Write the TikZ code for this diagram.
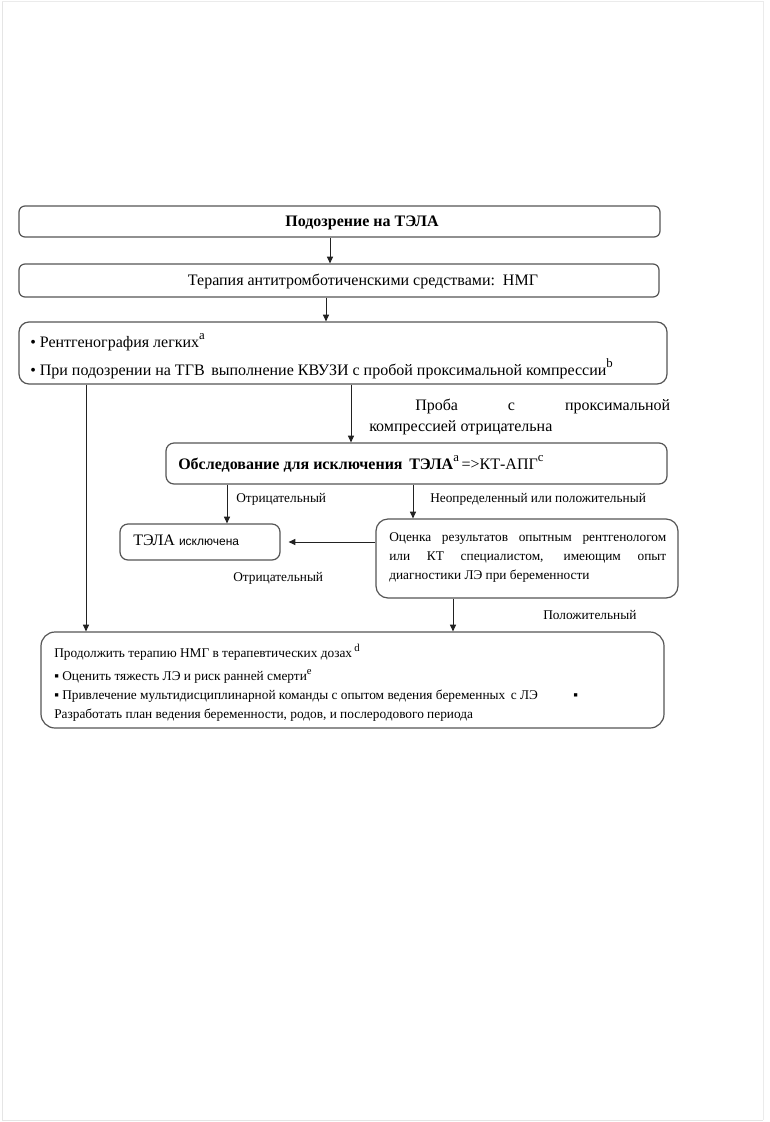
\documentclass[tikz,border=0pt]{standalone}
\usepackage{fontspec}
\setmainfont{Liberation Serif}
\newfontfamily\sansf{Liberation Sans}
\usetikzlibrary{arrows.meta}
\newdimen\PX \PX=0.75pt
\newcommand\supx[1]{\raisebox{0.45em}{\fontsize{0.8em}{1em}\selectfont #1}}
\definecolor{boxline}{HTML}{555555}
\definecolor{lineclr}{HTML}{222222}
\begin{document}
\begin{tikzpicture}[x=0.75pt,y=-0.75pt,
  box/.style={draw=boxline,line width=0.9pt,fill=white,inner sep=0pt},
  arr/.style={draw=lineclr,line width=0.75pt,-{Triangle[length=5pt,width=4.5pt]}},
  txt/.style={inner sep=0pt,anchor=base west,text=black},
  f12/.style={font=\fontsize{12}{14}\selectfont},
  f10/.style={font=\fontsize{10}{12}\selectfont}]
\useasboundingbox (0,0) rectangle (770,1122);
\draw[black!10,line width=0.6pt] (2,1) -- (2,1120) -- (763,1120);
\draw[black!8,line width=0.6pt] (2,1) -- (763,1) -- (763,1120);

% boxes
\node[box,rounded corners=6\PX,minimum width=641\PX,minimum height=31\PX] (b1) at (339.5,221.5) {};
\node[box,rounded corners=6\PX,minimum width=640\PX,minimum height=33\PX] (b2) at (339,280.5) {};
\node[box,rounded corners=10\PX,minimum width=648\PX,minimum height=62\PX] (b3) at (343,353) {};
\node[box,rounded corners=8\PX,minimum width=501\PX,minimum height=41\PX] (b4) at (416.5,463.5) {};
\node[box,rounded corners=8\PX,minimum width=160\PX,minimum height=36\PX] (b5) at (200,542) {};
\node[box,rounded corners=12\PX,minimum width=302\PX,minimum height=79\PX] (b6) at (527,558.5) {};
\node[box,rounded corners=14\PX,minimum width=623\PX,minimum height=96\PX] (b7) at (352.5,680) {};

% texts
\node[inner sep=0pt,anchor=base,f12] (t1) at (362,226) {\textbf{Подозрение на ТЭЛА}};
\node[inner sep=0pt,anchor=base,f12] (t2) at (363,285) {Терапия антитромботиченскими средствами:\, НМГ};
\node[txt,f12] (t3a) at (30,347) {• Рентгенография легких\supx{a}};
\node[txt,f12] (t3b) at (30,375) {• При подозрении на ТГВ\, выполнение КВУЗИ с пробой проксимальной компрессии\supx{b}};
\node[txt,f12] (lp1) at (415,410) {\makebox[255\PX][s]{Проба \hfill с \hfill проксимальной}};
\node[txt,f12] (lp2) at (369,431) {компрессией отрицательна};
\node[txt,f12] (t4) at (178,469) {\textbf{Обследование для исключения\, ТЭЛА}\supx{a}\,=>КТ-АПГ\supx{c}};
\node[txt,f10] (l1) at (236,502) {Отрицательный};
\node[txt,f10] (l2) at (430,502) {Неопределенный или положительный};
\node[txt,f12] (t5) at (133,545) {ТЭЛА {\sansf\fontsize{9}{11}\selectfont исключена}};
\node[txt,f10] (t6a) at (389,541) {\makebox[277\PX][s]{Оценка результатов опытным рентгенологом}};
\node[txt,f10] (t6b) at (389,560) {\makebox[277\PX][s]{или КТ специалистом, имеющим опыт}};
\node[txt,f10] (t6c) at (389,579) {диагностики ЛЭ при беременности};
\node[txt,f10] (l3) at (233,581) {Отрицательный};
\node[txt,f10] (l4) at (543,619) {Положительный};
\node[txt,f10] (t7a) at (54,657) {Продолжить терапию НМГ в терапевтических дозах\,\supx{d}};
\node[txt,f10] (t7b) at (54,680) {▪ Оценить тяжесть ЛЭ и риск ранней смерти\supx{e}};
\node[txt,f10] (t7c) at (54,699) {▪ Привлечение мультидисциплинарной команды с опытом ведения беременных\, с ЛЭ};
\node[txt,f10] (t7d) at (573,699) {▪};
\node[txt,f10] (t7e) at (54,718) {Разработать план ведения беременности, родов, и послеродового периода};

% connectors
\coordinate (x330) at (330,0);
\coordinate (x326) at (326,0);
\coordinate (x86) at (86,0);
\coordinate (x351) at (351,0);
\coordinate (x227) at (227,0);
\coordinate (x413) at (413,0);
\coordinate (x453) at (453,0);
\coordinate (y542) at (0,542);
\draw[arr] (x330 |- b1.south) -- (x330 |- b2.north);
\draw[arr] (x326 |- b2.south) -- (x326 |- b3.north);
\draw[arr] (x86 |- b3.south) -- (x86 |- b7.north);
\draw[arr] (x351 |- b3.south) -- (x351 |- b4.north);
\draw[arr] (x227 |- b4.south) -- (x227 |- b5.north);
\draw[arr] (x413 |- b4.south) -- (x413 |- b6.north);
\draw[arr] (b6.west |- y542) -- ([xshift=8\PX]b5.east |- y542);
\draw[arr] (x453 |- b6.south) -- (x453 |- b7.north);
\end{tikzpicture}
\end{document}
